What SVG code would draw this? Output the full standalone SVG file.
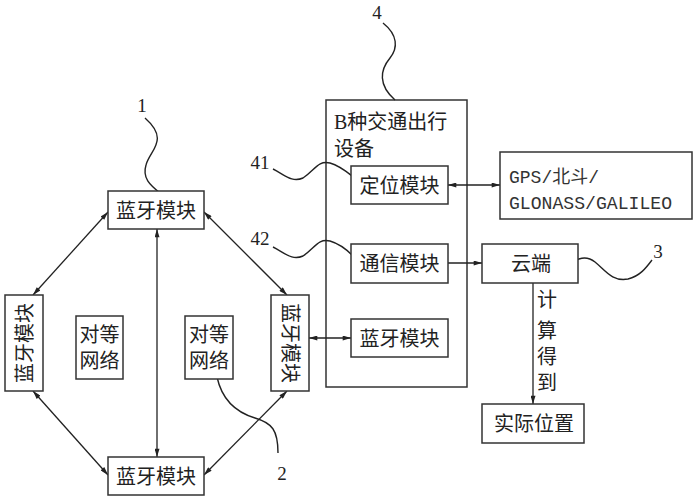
<svg xmlns="http://www.w3.org/2000/svg" width="696" height="500" viewBox="0 0 696 500">
<defs>
<marker id="ah" viewBox="0 0 10 6" refX="10" refY="3" markerWidth="9" markerHeight="5" orient="auto-start-reverse" markerUnits="userSpaceOnUse">
<path d="M0,0 L10,3 L0,6 Z" fill="#222"/>
</marker>
<style>
rect{fill:#fff;stroke:#333;stroke-width:1.5}
.t{font-family:"Liberation Serif","Noto Sans CJK SC",serif;font-size:20px;fill:#222;text-anchor:middle}
.n{font-family:"Liberation Serif",serif;font-size:19px;fill:#222;text-anchor:middle}
.m{font-family:"Liberation Mono","Noto Sans CJK SC",monospace;font-size:18px;fill:#333}
.c{fill:none;stroke:#222;stroke-width:1.3}
.w{fill:none;stroke:#222;stroke-width:1.4}
</style>
</defs>
<rect x="0" y="0" width="696" height="500" style="fill:#fff;stroke:none"/>
<g id="deviceB">
<rect x="326" y="100" width="141" height="287"/>
<text class="t" x="334" y="129" style="text-anchor:start">B种交通出行</text>
<text class="t" x="334" y="156" style="text-anchor:start">设备</text>
</g>
<g id="connectors">
<line class="c" x1="157" y1="229" x2="157" y2="457" marker-start="url(#ah)" marker-end="url(#ah)"/>
<line class="c" x1="108" y1="212" x2="33" y2="295" marker-start="url(#ah)" marker-end="url(#ah)"/>
<line class="c" x1="204" y1="212" x2="287" y2="295" marker-start="url(#ah)" marker-end="url(#ah)"/>
<line class="c" x1="33" y1="391" x2="108" y2="475" marker-start="url(#ah)" marker-end="url(#ah)"/>
<line class="c" x1="287" y1="391" x2="204" y2="475" marker-start="url(#ah)" marker-end="url(#ah)"/>
<line class="c" x1="309" y1="338" x2="351" y2="338" marker-start="url(#ah)" marker-end="url(#ah)"/>
<line class="c" x1="448" y1="185" x2="500" y2="185" marker-start="url(#ah)" marker-end="url(#ah)"/>
<line class="c" x1="448" y1="263" x2="482" y2="263" marker-end="url(#ah)"/>
<line class="c" x1="533" y1="283" x2="533" y2="404" marker-end="url(#ah)"/>
</g>
<g id="leaders">
<path class="w" d="M145,118 C170,140 150,150 146,165 C142,178 150,185 160,193"/>
<path class="w" d="M383,23 C398,35 398,48 390,58 C380,70 378,85 395,100"/>
<path class="w" d="M273,169 C285,175 292,183 303,178 C315,170 318,160 330,163 C340,166 347,172 352,176"/>
<path class="w" d="M273,247 C285,253 292,261 303,256 C315,248 318,238 330,241 C340,244 347,250 352,255"/>
<path class="w" d="M568,265 C578,258 586,255 595,262 C605,270 612,282 628,279 C640,276 646,268 652,260"/>
<path class="w" d="M217,377 C222,400 235,412 255,418 C272,423 278,430 278,453"/>
</g>
<g id="node1">
<rect x="108" y="191" width="96" height="38"/>
<text class="t" x="156" y="217.5">蓝牙模块</text>
</g>
<g id="node-left">
<rect x="5" y="295" width="38" height="96"/>
<text class="t" transform="translate(24,343) rotate(-90)" x="0" y="7.5">蓝牙模块</text>
</g>
<g id="node-right">
<rect x="271" y="295" width="38" height="96"/>
<text class="t" transform="translate(290,343) rotate(90)" x="0" y="7.5">蓝牙模块</text>
</g>
<g id="node-bottom">
<rect x="108" y="457" width="96" height="38"/>
<text class="t" x="156" y="483.5">蓝牙模块</text>
</g>
<g id="p2p-left">
<rect x="76" y="316" width="47" height="63"/>
<text class="t" x="99.5" y="342">对等</text>
<text class="t" x="99.5" y="368">网络</text>
</g>
<g id="p2p-right">
<rect x="185" y="316" width="48" height="63"/>
<text class="t" x="209" y="342">对等</text>
<text class="t" x="209" y="368">网络</text>
</g>
<g id="node41">
<rect x="351" y="166" width="97" height="38"/>
<text class="t" x="399.5" y="192.5">定位模块</text>
</g>
<g id="node42">
<rect x="351" y="244" width="97" height="39"/>
<text class="t" x="399.5" y="271">通信模块</text>
</g>
<g id="nodeBT">
<rect x="351" y="319" width="97" height="38"/>
<text class="t" x="399.5" y="345.5">蓝牙模块</text>
</g>
<g id="gnss">
<rect x="500" y="152" width="192" height="67"/>
<text class="m" x="509" y="183">GPS/北斗/</text>
<text class="m" x="509" y="209" textLength="163" lengthAdjust="spacingAndGlyphs">GLONASS/GALILEO</text>
</g>
<g id="cloud">
<rect x="482" y="244" width="96" height="39"/>
<text class="t" x="531" y="270.5">云端</text>
</g>
<g id="position">
<rect x="482" y="404" width="102" height="39"/>
<text class="t" x="534" y="430.5">实际位置</text>
</g>
<g id="calc-label">
<text class="t" x="547" y="306.5">计</text>
<text class="t" x="547" y="337.5">算</text>
<text class="t" x="547" y="363.5">得</text>
<text class="t" x="547" y="389.5">到</text>
</g>
<g id="numbers">
<text class="n" x="142" y="112">1</text>
<text class="n" x="377" y="19">4</text>
<text class="n" x="260" y="169">41</text>
<text class="n" x="260" y="245">42</text>
<text class="n" x="658" y="258">3</text>
<text class="n" x="282" y="480">2</text>
</g>
</svg>
